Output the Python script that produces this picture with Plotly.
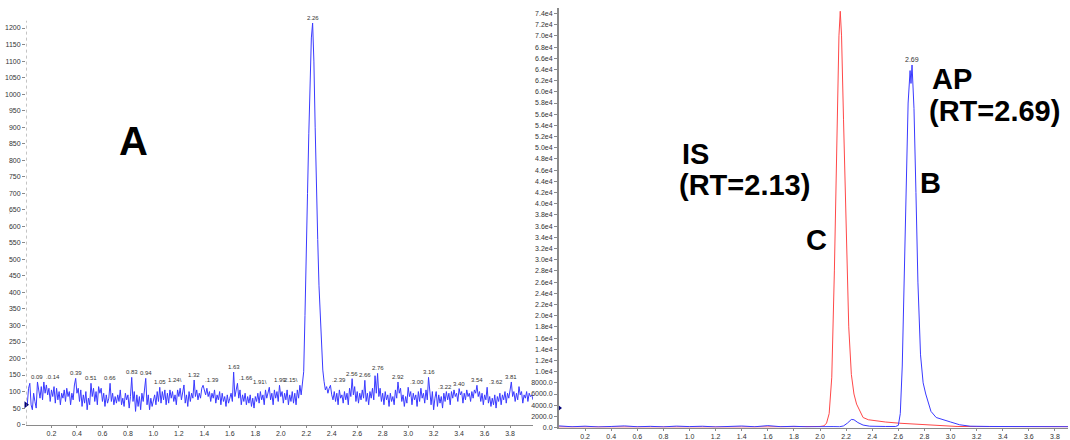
import plotly.graph_objects as go

# ---------------- Left chromatogram (A) ----------------
left_values = [
    60, 110, 125, 60, 45, 95, 70, 50, 129, 105,
    80, 115, 75, 129, 95, 120, 90, 110, 70, 105,
    85, 115, 65, 110, 75, 100, 60, 95, 80, 105,
    70, 110, 85, 100, 60, 95, 75, 120, 140, 95,
    110, 70, 105, 55, 90, 65, 100, 45, 80, 60,
    125, 85, 110, 70, 100, 60, 115, 95, 110, 70,
    95, 55, 90, 65, 80, 125, 70, 95, 60, 85,
    65, 90, 70, 105, 60, 80, 55, 95, 75, 90,
    50, 85, 143, 70, 100, 40, 90, 55, 85, 45,
    95, 70, 105, 140, 60, 90, 45, 80, 55, 75,
    90, 60, 100, 70, 113, 65, 100, 75, 105, 60,
    95, 65, 105, 80, 100, 70, 90, 60, 105, 85,
    110, 75, 95, 120, 65, 90, 55, 100, 70, 95,
    80, 135, 85, 105, 75, 95, 80, 110, 119, 100,
    90, 110, 85, 100, 70, 95, 80, 105, 65, 90,
    75, 100, 60, 95, 70, 85, 55, 90, 65, 80,
    95, 70, 159, 85, 110, 125, 80, 105, 60, 90,
    70, 95, 60, 85, 65, 90, 55, 80, 50, 85,
    70, 95, 65, 100, 75, 90, 60, 105, 80, 95,
    113, 75, 95, 60, 105, 80, 100, 70, 119, 85,
    100, 65, 95, 75, 105, 60, 90, 70, 100, 65,
    95, 60, 105, 80, 119, 90, 120, 160, 330, 560,
    700, 880, 1040, 1170, 1215, 1100, 900, 680, 560, 420,
    320, 220, 165, 130, 105, 115, 95, 110, 119, 90,
    75, 100, 70, 95, 60, 105, 80, 90, 65, 100,
    75, 95, 60, 110, 85, 139, 90, 115, 70, 100,
    65, 95, 75, 105, 80, 134, 70, 95, 60, 100,
    80, 110, 75, 148, 95, 155, 85, 110, 70, 95,
    60, 100, 75, 90, 55, 95, 70, 85, 60, 105,
    80, 129, 95, 110, 70, 90, 55, 85, 65, 113,
    85, 100, 60, 95, 75, 90, 55, 100, 70, 110,
    80, 95, 65, 105, 75, 143, 90, 60, 100, 45,
    80, 100, 55, 90, 65, 85, 50, 95, 70, 100,
    75, 95, 60, 100, 80, 105, 85, 95, 70, 109,
    90, 100, 65, 95, 75, 105, 85, 95, 70, 100,
    80, 105, 95, 119, 85, 100, 70, 95, 60, 90,
    75, 113, 65, 85, 55, 80, 60, 90, 50, 85,
    70, 95, 60, 90, 75, 100, 65, 95, 80, 100,
    129, 85, 100, 70, 95, 75, 115, 90, 100, 65,
    90, 80, 100, 70, 95, 85, 90, 75,
]
left_time = [round(0.01 * (i + 1), 2) for i in range(len(left_values))]

# peak labels as printed (leading "." / trailing "\" are the leader marks)
left_peak_labels = ["0.09", ".0.14", "0.39", "0.51", "0.66", "0.83", "0.94",
                    "1.05", "1.24\\", "1.32", ".1.39", "1.63", ".1.66", "1.91\\",
                    "1.99", "2.15\\", "2.26", ".2.39", "2.56", "2.66", "2.76",
                    "2.92", ".3.00", "3.16", ".3.22", "3.40", "3.54", ".3.62",
                    "3.81"]

left_yticks = list(range(0, 1201, 50))
x_ticks = [0.2, 0.4, 0.6, 0.8, 1.0, 1.2, 1.4, 1.6, 1.8, 2.0, 2.2, 2.4,
           2.6, 2.8, 3.0, 3.2, 3.4, 3.6, 3.8]

# ---------------- Right chromatogram (IS red, AP blue) ----------------
is_time = [0.0, 0.2, 0.4, 0.6, 0.8, 1.0, 1.2, 1.4, 1.6, 1.8, 1.95, 2.0,
           2.03, 2.05, 2.07, 2.09, 2.11, 2.13, 2.145, 2.155, 2.165, 2.18,
           2.20, 2.22, 2.24, 2.26, 2.28, 2.30, 2.33, 2.37, 2.43, 2.50, 2.61,
           2.70, 2.80, 2.87, 2.95, 3.05, 3.2, 3.4, 3.6, 3.9]
is_values = [100, 80, 120, 90, 110, 80, 100, 90, 110, 90, 150, 200,
             300, 800, 2500, 9000, 28000, 52000, 70000, 74400, 70000, 55000,
             35000, 18000, 9500, 6000, 4200, 3200, 1800, 1400, 1180, 1000, 780,
             650, 550, 480, 350, 200, 180, 150, 160, 150]

ap_time = [0.0, 0.1, 0.2, 0.3, 0.4, 0.5, 0.6, 0.7, 0.8, 0.9, 1.0, 1.1, 1.2,
           1.3, 1.4, 1.5, 1.6, 1.7, 1.8, 1.9, 2.0, 2.1, 2.15, 2.18, 2.21,
           2.24, 2.26, 2.29, 2.33, 2.38, 2.5, 2.58, 2.60, 2.615, 2.63, 2.645,
           2.66, 2.675, 2.69, 2.697, 2.705, 2.72, 2.735, 2.75, 2.77, 2.79,
           2.81, 2.83, 2.85, 2.89, 2.95, 3.00, 3.07, 3.15, 3.3, 3.5, 3.7, 3.9]
ap_values = [300, 150, 250, 120, 200, 300, 150, 220, 130, 260, 180, 240, 120,
             200, 280, 150, 350, 160, 230, 140, 210, 180, 150, 300, 800,
             1450, 1400, 900, 450, 250, 200, 200, 400, 2500, 11000, 27000,
             45000, 58000, 63800, 61500, 64800, 57000, 42000, 26000, 13000, 8000,
             6000, 4200, 2900, 1800, 1300, 1000, 500, 250, 200, 180, 200, 150]
ap_peak_labels = ["2.69"]

right_yticks = list(range(0, 74001, 2000))


def fmt_right(v):
    if v < 10000:
        return f"{v:.1f}"
    return f"{v / 10000:.1f}e4"


BLUE = "#3a3aff"
RED = "#ff4848"
AXIS = "#8a8a8a"
TXT = "#333333"
FONT = "Liberation Sans, Arial, sans-serif"

fig = go.Figure()
fig.add_trace(go.Scatter(x=left_time, y=left_values, mode="lines",
                         line=dict(color=BLUE, width=1), xaxis="x", yaxis="y",
                         showlegend=False, hoverinfo="skip"))
fig.add_trace(go.Scatter(x=[0], y=[left_values[0]], mode="markers",
                         marker=dict(symbol="triangle-right", size=6, color="#00007a"),
                         xaxis="x", yaxis="y", cliponaxis=False, showlegend=False))
fig.add_trace(go.Scatter(x=is_time, y=is_values, mode="lines",
                         line=dict(color=RED, width=1), xaxis="x2", yaxis="y2",
                         showlegend=False, hoverinfo="skip"))
fig.add_trace(go.Scatter(x=ap_time, y=ap_values, mode="lines",
                         line=dict(color=BLUE, width=1), xaxis="x2", yaxis="y2",
                         showlegend=False, hoverinfo="skip"))
fig.add_trace(go.Scatter(x=[0], y=[3500], mode="markers",
                         marker=dict(symbol="triangle-right", size=6, color="#00007a"),
                         xaxis="x2", yaxis="y2", cliponaxis=False, showlegend=False))

annotations = []
# peak labels on left chromatogram
for lab in left_peak_labels:
    target = float(lab.strip(".\\"))
    idx = min(range(len(left_time)), key=lambda i: abs(left_time[i] - target))
    cand = [j for j in (idx - 1, idx, idx + 1) if 0 <= j < len(left_time)]
    best = max(cand, key=lambda j: left_values[j])
    if lab.startswith("."):
        anchor = "left"
    elif lab.endswith("\\"):
        anchor = "right"
    else:
        anchor = "center"
    annotations.append(dict(x=left_time[best], y=left_values[best], xref="x", yref="y",
                            text=lab, showarrow=False, yanchor="bottom", xanchor=anchor,
                            yshift=0, font=dict(size=6, color=TXT, family=FONT)))
for lab in ap_peak_labels:
    best = max(range(len(ap_values)), key=lambda j: ap_values[j])
    annotations.append(dict(x=ap_time[best], y=ap_values[best], xref="x2", yref="y2",
                            text=lab, showarrow=False, yanchor="bottom", yshift=0,
                            font=dict(size=7, color=TXT, family=FONT)))

W, H = 1070, 440


def big(text, px, py, size, xanchor="center"):
    annotations.append(dict(x=px / W, y=1 - py / H, xref="paper", yref="paper",
                            text=f"<b>{text}</b>", showarrow=False, xanchor=xanchor,
                            yanchor="middle", font=dict(size=size, color="black", family=FONT)))


big("A", 133, 143, 40)
big("IS", 680, 156, 29, "left")
big("(RT=2.13)", 677, 187, 29, "left")
big("C", 816, 243, 29)
big("B", 930, 185, 29)
big("AP", 930, 80, 29, "left")
big("(RT=2.69)", 927, 112, 29, "left")
annotations.append(dict(x=3 / W, y=1 - 215 / H, xref="paper", yref="paper", text="...",
                        textangle=-90, showarrow=False,
                        font=dict(size=6, color=AXIS, family=FONT)))

shapes = [
    # dotted left y-axis line of panel A
    dict(type="line", xref="x", yref="paper", x0=0, x1=0, y0=10.5 / H, y1=1 - 21 / H,
         line=dict(color=AXIS, width=1, dash="dot")),
]

tickfont = dict(size=7, color=TXT, family=FONT)
fig.update_layout(
    width=W, height=H, margin=dict(l=0, r=0, t=0, b=0),
    paper_bgcolor="white", plot_bgcolor="white",
    xaxis=dict(domain=[26 / W, 533 / W], range=[0, 3.98], tickvals=x_ticks,
               ticktext=[f"{v:.1f}" for v in x_ticks], showgrid=False, zeroline=False,
               showline=True, linecolor=AXIS, linewidth=1, ticks="outside", ticklen=2,
               tickcolor=AXIS, tickfont=tickfont, anchor="y"),
    yaxis=dict(domain=[10.5 / H, 1 - 21 / H], range=[0, 1222], tickvals=left_yticks,
               ticktext=[str(v) for v in left_yticks], showgrid=False, zeroline=False,
               showline=False, ticks="outside", ticklen=3, tickcolor=AXIS,
               tickfont=tickfont, anchor="x"),
    xaxis2=dict(domain=[559 / W, 1068 / W], range=[0, 3.9], tickvals=x_ticks,
                ticktext=[f"{v:.1f}" for v in x_ticks], showgrid=False, zeroline=False,
                showline=True, linecolor=AXIS, linewidth=1, ticks="outside", ticklen=2,
                tickcolor=AXIS, tickfont=tickfont, anchor="y2"),
    yaxis2=dict(domain=[7.5 / H, 1 - 8 / H], range=[0, 75000], tickvals=right_yticks,
                ticktext=[fmt_right(v) for v in right_yticks], showgrid=False,
                zeroline=False, showline=True, linecolor=AXIS, linewidth=2,
                ticks="outside", ticklen=3, tickcolor=AXIS, tickfont=tickfont,
                anchor="x2"),
    annotations=annotations,
    shapes=shapes,
)

fig.write_html("out.html", config={"displayModeBar": False},
               post_script="document.body.style.margin='0';")
